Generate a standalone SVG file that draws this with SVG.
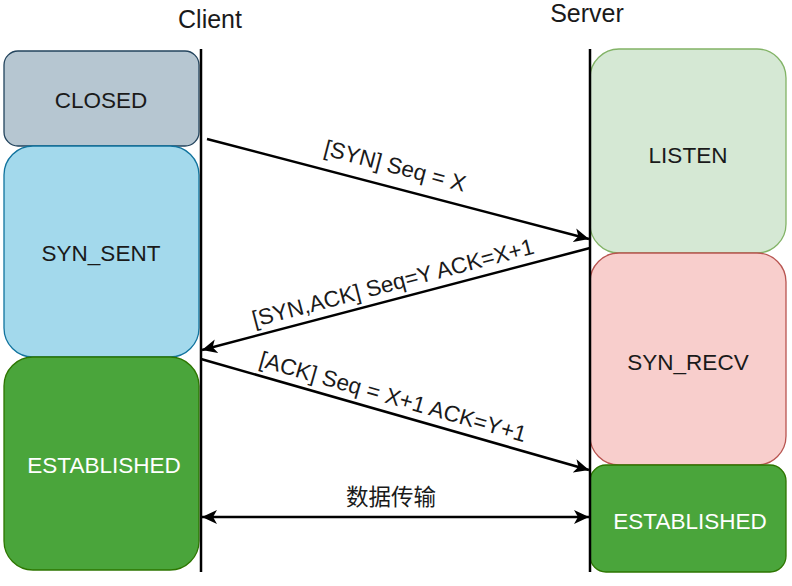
<svg xmlns="http://www.w3.org/2000/svg" width="792" height="586" viewBox="0 0 792 586">
<style>
text{font-family:"Liberation Sans",Arial,"Noto Sans CJK SC",sans-serif;}
.nt{font-size:22.5px;text-anchor:middle;dominant-baseline:central;fill:#1a1a1a;}
.wt{fill:#ffffff;}
.hd{font-size:25px;text-anchor:middle;fill:#1a1a1a;}
.lb{font-size:22.5px;text-anchor:middle;dominant-baseline:central;fill:#1a1a1a;}
.ln{stroke:#000;stroke-width:2.5;fill:none;}
.life{stroke:#000;stroke-width:2.5;}
.gray{fill:#b6c6d1;stroke:#23445d;stroke-width:1.3;}
.blue{fill:#a3d9ec;stroke:#10739e;stroke-width:1.3;}
.green{fill:#4aa53b;stroke:#2d7600;stroke-width:1.3;}
.lgreen{fill:#d5e8d4;stroke:#82b366;stroke-width:1.3;}
.red{fill:#f8cecc;stroke:#b85450;stroke-width:1.3;}
</style>
<defs>
<marker id="ah" markerUnits="userSpaceOnUse" markerWidth="16" markerHeight="14" viewBox="0 0 16 14" refX="15" refY="7" orient="auto-start-reverse">
<path d="M0,0 L15,7 L0,14 L4,7 Z" fill="#000"/>
</marker>
</defs>
<g id="title-client"><text class="hd" x="210" y="28">Client</text></g>
<g id="title-server"><text class="hd" x="587" y="22">Server</text></g>
<g id="closed"><rect class="gray" x="4" y="51" width="195" height="95" rx="14"/><text class="nt" x="101" y="100">CLOSED</text></g>
<g id="syn-sent"><rect class="blue" x="4" y="146" width="195" height="211" rx="29"/><text class="nt" x="101" y="253">SYN_SENT</text></g>
<g id="established-client"><rect class="green" x="4" y="357" width="195" height="213" rx="29"/><text class="nt wt" x="104" y="465">ESTABLISHED</text></g>
<g id="listen"><rect class="lgreen" x="590" y="49" width="196" height="204" rx="29"/><text class="nt" x="688" y="155">LISTEN</text></g>
<g id="syn-recv"><rect class="red" x="590" y="253" width="196" height="212" rx="29"/><text class="nt" x="688" y="362">SYN_RECV</text></g>
<g id="established-server"><rect class="green" x="590" y="465" width="196" height="107" rx="16"/><text class="nt wt" x="690" y="521">ESTABLISHED</text></g>
<g id="lifelines">
<line class="life" x1="201" y1="49" x2="201" y2="572"/>
<line class="life" x1="590" y1="49" x2="590" y2="572"/>
</g>
<g id="connectors">
<line class="ln" x1="207" y1="139" x2="589" y2="239" marker-end="url(#ah)"/>
<line class="ln" x1="590" y1="248" x2="202" y2="350" marker-end="url(#ah)"/>
<line class="ln" x1="201" y1="359" x2="589" y2="470" marker-end="url(#ah)"/>
<line class="ln" x1="202" y1="517" x2="589" y2="517" marker-start="url(#ah)" marker-end="url(#ah)"/>
<text class="lb" transform="translate(395,166) rotate(14.7)">[SYN] Seq = X</text>
<text class="lb" transform="translate(393,283) rotate(-14.7)">[SYN,ACK] Seq=Y ACK=X+1</text>
<text class="lb" transform="translate(393,397) rotate(16)">[ACK] Seq = X+1 ACK=Y+1</text>
<text class="lb" x="391" y="497">数据传输</text>
</g>
</svg>
